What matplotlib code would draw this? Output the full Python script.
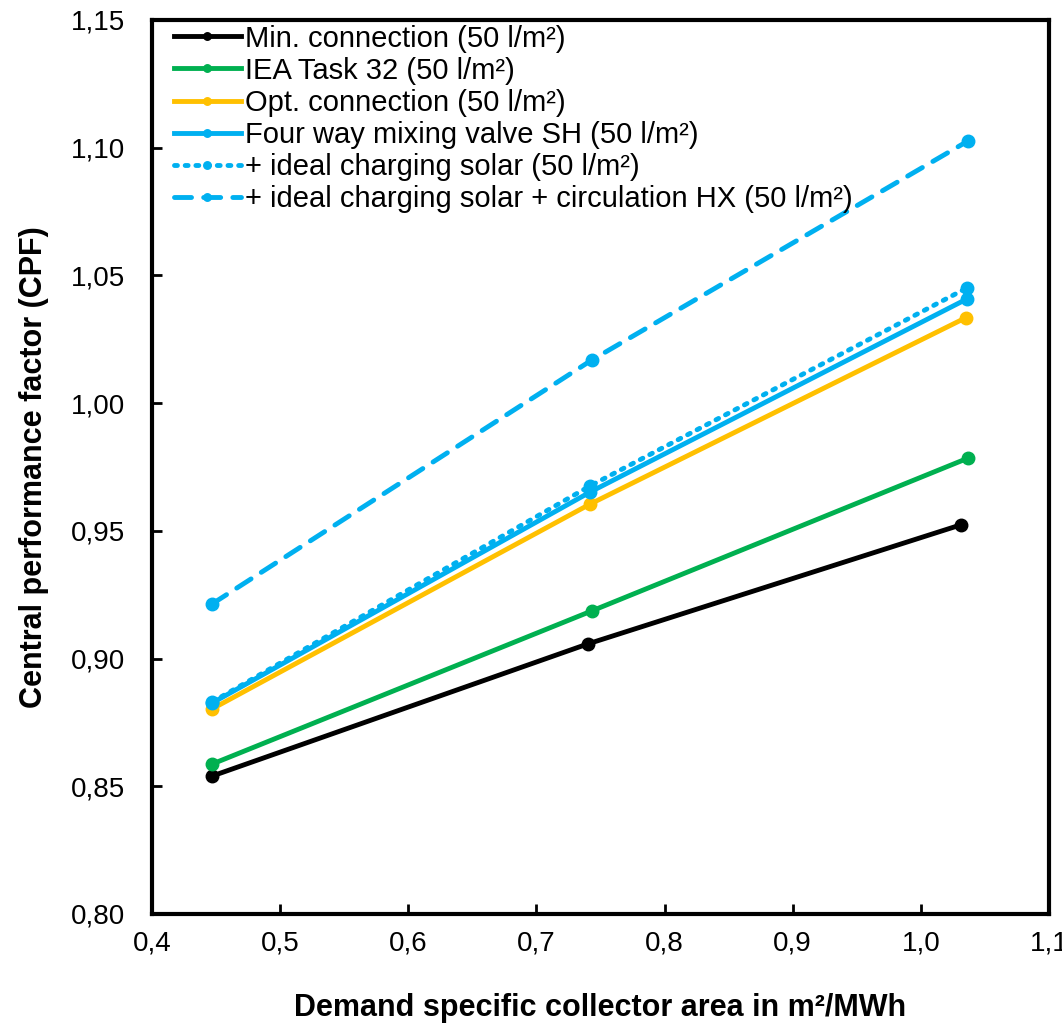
import matplotlib.pyplot as plt
from matplotlib.ticker import FuncFormatter, MultipleLocator

plt.rcParams['font.family'] = ['Liberation Sans', 'DejaVu Sans']

# demand specific collector area (m²/MWh)
x_min = [0.447, 0.740, 1.031]
x_iea = [0.447, 0.743, 1.037]
x_opt = [0.447, 0.742, 1.035]
x_four = [0.447, 0.742, 1.036]
x_ideal = [0.447, 0.742, 1.036]
x_circ = [0.447, 0.743, 1.037]

# central performance factor
cpf_min = [0.8540, 0.9057, 0.9523]
cpf_iea = [0.8587, 0.9186, 0.9785]
cpf_opt = [0.8803, 0.9605, 1.0334]
cpf_four = [0.8826, 0.9652, 1.0408]
cpf_ideal = [0.8830, 0.9676, 1.0451]
cpf_circ = [0.9214, 1.0168, 1.1027]

labels = [
    "Min. connection (50 l/m²)",
    "IEA Task 32 (50 l/m²)",
    "Opt. connection (50 l/m²)",
    "Four way mixing valve SH (50 l/m²)",
    "+ ideal charging solar (50 l/m²)",
    "+ ideal charging solar + circulation HX (50 l/m²)",
]

blue = '#00B0F0'

fig = plt.figure(figsize=(10.62, 10.34), dpi=100)
ax = fig.add_axes([0.1431, 0.1161, 0.8447, 0.8646])

ax.plot(x_min, cpf_min, '-o', color='black', lw=3.5, ms=9, label=labels[0])
ax.plot(x_iea, cpf_iea, '-o', color='#00B050', lw=3.5, ms=9, label=labels[1])
ax.plot(x_opt, cpf_opt, '-o', color='#FFC000', lw=3.5, ms=9, label=labels[2])
ax.plot(x_four, cpf_four, '-o', color=blue, lw=3.5, ms=9, label=labels[3])
ax.plot(x_ideal, cpf_ideal, linestyle=(0, (0.6, 1.6)), marker='o', color=blue,
        lw=3.5, ms=9, dash_capstyle='round', label=labels[4])
ax.plot(x_circ, cpf_circ, linestyle=(0, (3.5, 2.5)), marker='o', color=blue,
        lw=3.5, ms=9, dash_capstyle='round', label=labels[5])

ax.set_xlim(0.4, 1.1)
ax.set_ylim(0.80, 1.15)
ax.xaxis.set_major_locator(MultipleLocator(0.1))
ax.yaxis.set_major_locator(MultipleLocator(0.05))
ax.xaxis.set_major_formatter(FuncFormatter(lambda v, p: f"{v:.1f}".replace('.', ',')))
ax.yaxis.set_major_formatter(FuncFormatter(lambda v, p: f"{v:.2f}".replace('.', ',')))

ax.tick_params(direction='in', length=7, width=2, labelsize=20)
ax.tick_params(axis='x', pad=12)
ax.tick_params(axis='y', pad=19)
for s in ax.spines.values():
    s.set_linewidth(3)

ax.set_xlabel("Demand specific collector area in m²/MWh", fontsize=22,
              fontweight='bold', labelpad=26)
ax.set_ylabel("Central performance factor (CPF)", fontsize=22,
              fontweight='bold', labelpad=16)

leg = ax.legend(loc='upper left', frameon=False, fontsize=21, handlelength=2.3,
                handletextpad=0.15, labelspacing=0.14, borderaxespad=0.06,
                markerscale=0.6, borderpad=0.1, bbox_to_anchor=(0.019, 1.0))

fig.savefig('out.png', dpi=100)
